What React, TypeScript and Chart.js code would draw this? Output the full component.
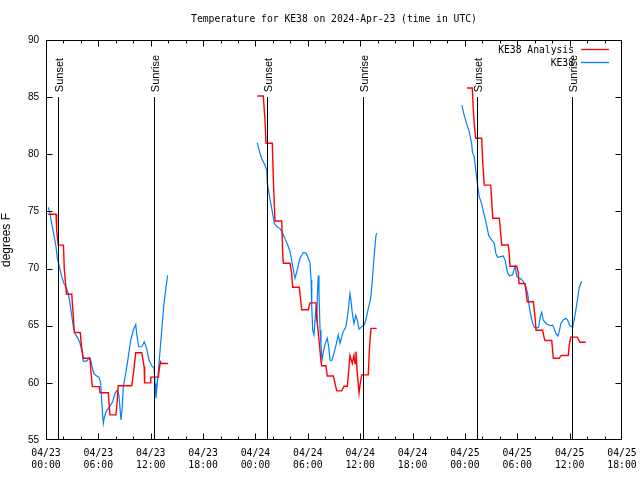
import React, { useEffect, useRef } from 'react';
import { Chart, registerables } from 'chart.js';

Chart.register(...registerables);

// Hours since 2024-04-23 00:00 UTC
const analysisTimes1 = [0.26, 1.15, 1.22, 1.4, 2.0, 2.1, 2.35, 2.95, 3.1, 3.25, 3.93, 4.05, 4.27, 5.04, 5.15, 5.31, 6.1, 6.2, 7.14, 7.25, 7.34, 8.02, 8.17, 8.28, 9.82, 10.05, 10.28, 10.97, 11.25, 11.3, 11.92, 12.0, 12.87, 13.1, 13.2, 14.0];
const analysisTemps1 = [74.75, 74.75, 73.4, 72.05, 72.05, 69.9, 67.75, 67.75, 66.1, 64.4, 64.4, 63.3, 62.15, 62.15, 61.0, 59.67, 59.67, 59.14, 59.14, 57.9, 57.2, 57.2, 58.5, 59.75, 59.75, 61.0, 62.64, 62.64, 61.4, 60.0, 60.0, 60.5, 60.5, 61.85, 61.7, 61.7];

const analysisTimes2 = [24.21, 24.9, 25.09, 25.21, 25.93, 26.05, 26.24, 27.01, 27.12, 27.19, 27.96, 28.15, 28.27, 29.02, 29.18, 29.3, 30.06, 30.25, 30.94, 31.09, 31.32, 31.51, 31.59, 32.08, 32.23, 32.92, 33.12, 33.31, 33.88, 34.15, 34.53, 34.69, 34.83, 35.1, 35.29, 35.41, 35.52, 35.67, 35.87, 35.98, 36.17, 36.93, 37.05, 37.24, 37.89];
const analysisTemps2 = [85.1, 85.1, 83.0, 80.96, 80.96, 77.75, 74.16, 74.16, 71.33, 70.46, 70.46, 69.6, 68.36, 68.36, 67.25, 66.4, 66.4, 67.0, 67.0, 65.2, 63.46, 61.85, 61.5, 61.5, 60.6, 60.6, 59.96, 59.3, 59.3, 59.7, 59.7, 61.1, 62.4, 61.7, 62.4, 61.7, 62.73, 60.8, 59.1, 59.8, 60.7, 60.7, 62.9, 64.77, 64.77];

const analysisTimes3 = [48.24, 48.85, 48.96, 49.07, 49.23, 49.92, 50.04, 50.22, 50.96, 51.07, 51.19, 51.94, 52.1, 52.22, 52.97, 53.09, 53.17, 53.94, 54.12, 54.2, 54.89, 55.0, 55.15, 55.84, 56.03, 56.15, 56.91, 57.06, 57.18, 57.95, 58.06, 58.13, 58.82, 58.98, 59.09, 59.85, 59.96, 60.12, 60.88, 61.0, 61.19, 61.84];
const analysisTemps3 = [85.8, 85.8, 83.9, 82.7, 81.4, 81.4, 79.35, 77.3, 77.3, 76.0, 74.4, 74.4, 73.1, 72.06, 72.06, 71.2, 70.2, 70.2, 69.6, 68.7, 68.7, 68.0, 67.1, 67.1, 65.8, 64.6, 64.6, 64.0, 63.7, 63.7, 62.73, 62.15, 62.15, 62.35, 62.4, 62.4, 63.3, 64.0, 64.0, 63.8, 63.55, 63.55];

const obsTimes1 = [0.26, 0.46, 0.65, 0.92, 1.15, 1.29, 1.49, 1.8, 2.06, 2.29, 2.56, 2.75, 2.94, 3.13, 3.32, 3.59, 3.9, 4.16, 4.27, 4.66, 4.96, 5.16, 5.31, 5.5, 5.81, 6.07, 6.27, 6.38, 6.5, 6.57, 6.68, 6.96, 7.33, 7.64, 7.91, 8.17, 8.36, 8.59, 8.71, 8.86, 9.17, 9.43, 9.71, 10.0, 10.28, 10.39, 10.62, 10.97, 11.26, 11.54, 11.8, 12.11, 12.38, 12.49, 12.6, 12.75, 12.98, 13.26, 13.52, 13.75, 13.94];
const obsTemps1 = [75.36, 74.8, 73.96, 72.9, 71.9, 70.9, 70.3, 69.3, 68.7, 68.4, 67.8, 66.96, 65.94, 64.9, 64.3, 64.0, 63.46, 62.6, 61.9, 61.9, 62.2, 61.9, 61.3, 60.8, 60.6, 60.5, 59.96, 58.5, 57.04, 56.46, 56.99, 57.6, 57.97, 58.35, 59.08, 59.37, 58.9, 56.75, 57.6, 59.67, 60.98, 62.3, 63.75, 64.6, 65.1, 64.3, 63.16, 63.16, 63.6, 63.0, 62.0, 61.5, 61.3, 59.96, 58.65, 59.96, 62.0, 64.6, 66.96, 68.4, 69.4];

const obsTimes2 = [24.21, 24.44, 24.72, 25.09, 25.29, 25.36, 25.55, 25.75, 25.93, 26.16, 26.44, 26.81, 27.12, 27.39, 27.7, 27.96, 28.27, 28.53, 28.8, 29.1, 29.48, 29.79, 30.06, 30.25, 30.37, 30.45, 30.56, 30.71, 30.94, 31.02, 31.13, 31.2, 31.28, 31.4, 31.51, 31.63, 31.78, 32.0, 32.23, 32.39, 32.54, 32.74, 33.0, 33.23, 33.49, 33.69, 33.88, 34.07, 34.37, 34.64, 34.83, 34.95, 35.1, 35.29, 35.49, 35.67, 35.87, 36.17, 36.44, 36.67, 36.93, 37.2, 37.39, 37.62, 37.81, 37.89];
const obsTemps2 = [81.0, 80.3, 79.6, 79.06, 78.6, 77.46, 76.6, 75.7, 74.98, 73.96, 73.67, 73.5, 73.1, 72.6, 72.06, 71.5, 70.2, 69.15, 69.9, 70.9, 71.4, 71.35, 70.9, 70.5, 69.0, 66.67, 64.6, 64.2, 66.67, 65.3, 68.4, 69.4, 68.0, 64.6, 63.2, 62.0, 62.7, 63.46, 63.9, 63.16, 62.0, 61.95, 62.6, 63.3, 64.2, 63.46, 64.0, 64.5, 64.9, 66.4, 67.8, 67.2, 66.1, 65.2, 65.9, 65.5, 64.7, 64.9, 65.06, 65.56, 66.5, 67.4, 69.0, 71.3, 72.9, 73.1];

const obsTimes3 = [47.65, 47.92, 48.19, 48.49, 48.76, 48.87, 49.06, 49.26, 49.45, 49.64, 49.91, 50.21, 50.49, 50.72, 50.98, 51.36, 51.56, 51.75, 52.13, 52.4, 52.62, 52.9, 53.16, 53.47, 53.66, 53.77, 53.93, 54.16, 54.43, 54.69, 55.0, 55.19, 55.38, 55.57, 55.77, 55.95, 56.23, 56.46, 56.64, 56.8, 56.98, 57.29, 57.6, 57.86, 58.05, 58.24, 58.43, 58.66, 58.81, 59.0, 59.26, 59.57, 59.76, 60.03, 60.34, 60.52, 60.72, 60.91, 61.1, 61.3, 61.38];
const obsTemps3 = [84.3, 83.4, 82.7, 82.0, 80.96, 80.2, 79.8, 78.5, 77.3, 76.3, 75.7, 74.7, 73.8, 72.9, 72.6, 72.2, 71.3, 70.98, 71.05, 71.1, 70.7, 69.6, 69.35, 69.45, 70.0, 70.2, 69.35, 69.15, 69.1, 68.85, 68.4, 67.8, 66.67, 65.8, 65.2, 64.86, 64.8, 64.9, 65.8, 66.17, 65.5, 65.2, 65.06, 65.0, 65.06, 64.7, 64.3, 64.1, 64.5, 65.2, 65.5, 65.65, 65.5, 65.0, 64.86, 65.5, 66.4, 67.4, 68.3, 68.76, 68.9];

const sunTimes = [1.38, 12.38, 25.32, 36.32, 49.39, 60.27];
const sunLabels = ['Sunset', 'Sunrise', 'Sunset', 'Sunrise', 'Sunset', 'Sunrise'];
const sunLineTop = 85;

const xTickDates = ['04/23', '04/23', '04/23', '04/23', '04/24', '04/24', '04/24', '04/24', '04/25', '04/25', '04/25', '04/25'];
const xTickTimes = ['00:00', '06:00', '12:00', '18:00', '00:00', '06:00', '12:00', '18:00', '00:00', '06:00', '12:00', '18:00'];

const seriesNames = ['KE38 Analysis', 'KE38'];
const seriesColors = ['#ff0000', '#0080ff'];
const titleText = 'Temperature for KE38 on 2024-Apr-23 (time in UTC)';
const yAxisTitle = 'degrees F';

const MONO = '"DejaVu Sans Mono", monospace';
const SANS = '"Liberation Sans", Arial, sans-serif';

type Pt = { x: number; y: number | null };
const toPoints = (ts: number[], vs: number[]): Pt[] => ts.map((t, i) => ({ x: t, y: vs[i] }));
const joinSegments = (segs: Pt[][]): Pt[] => {
  const out: Pt[] = [];
  segs.forEach((s, i) => {
    if (i > 0) out.push({ x: (out[out.length - 1].x + s[0].x) / 2, y: null });
    out.push(...s);
  });
  return out;
};

const decorPlugin = {
  id: 'decor',
  afterDatasetsDraw(chart: any) {
    const { ctx, chartArea: a, scales } = chart;
    const x = scales.x;
    const y = scales.y;
    ctx.save();
    ctx.strokeStyle = '#000';
    ctx.fillStyle = '#000';
    ctx.lineWidth = 1;

    // sunrise / sunset markers
    const yTop = y.getPixelForValue(sunLineTop);
    const yBot = y.getPixelForValue(y.min);
    sunTimes.forEach((t, i) => {
      const px = Math.round(x.getPixelForValue(t)) + 0.5;
      ctx.beginPath();
      ctx.moveTo(px, Math.round(yTop));
      ctx.lineTo(px, yBot);
      ctx.stroke();
      ctx.save();
      ctx.translate(px + 4.5, yTop - 5);
      ctx.rotate(-Math.PI / 2);
      ctx.font = '11px ' + SANS;
      ctx.textAlign = 'left';
      ctx.textBaseline = 'alphabetic';
      ctx.fillText(sunLabels[i], 0, 0);
      ctx.restore();
    });

    // border
    const L = Math.round(a.left) + 0.5;
    const R = Math.round(a.right) - 0.5;
    const T = Math.round(a.top) + 0.5;
    const B = Math.round(a.bottom) - 0.5;
    ctx.strokeRect(L, T, R - L, B - T);

    // ticks
    ctx.beginPath();
    for (let h = 2; h < 66; h += 2) {
      const len = h % 6 === 0 ? 6 : 3;
      const px = Math.round(x.getPixelForValue(h)) + 0.5;
      ctx.moveTo(px, B);
      ctx.lineTo(px, B - len);
      ctx.moveTo(px, T);
      ctx.lineTo(px, T + len);
    }
    for (let v = 60; v < 90; v += 5) {
      const py = Math.round(y.getPixelForValue(v)) + 0.5;
      ctx.moveTo(L, py);
      ctx.lineTo(L + 6, py);
      ctx.moveTo(R, py);
      ctx.lineTo(R - 6, py);
    }
    ctx.stroke();

    // title
    ctx.font = '9.7px ' + MONO;
    ctx.textAlign = 'center';
    ctx.textBaseline = 'middle';
    ctx.fillText(titleText, (a.left + a.right) / 2, 19.5);

    // y-axis title
    ctx.save();
    ctx.translate(10, (a.top + a.bottom) / 2);
    ctx.rotate(-Math.PI / 2);
    ctx.font = '12px ' + SANS;
    ctx.textAlign = 'center';
    ctx.textBaseline = 'alphabetic';
    ctx.fillText(yAxisTitle, 0, 0);
    ctx.restore();

    // legend
    ctx.font = '9.7px ' + MONO;
    ctx.textAlign = 'right';
    ctx.textBaseline = 'middle';
    seriesNames.forEach((name, i) => {
      const ly = 50 + i * 13;
      ctx.fillStyle = '#000';
      ctx.fillText(name, 574, ly);
      ctx.strokeStyle = seriesColors[i];
      ctx.lineWidth = 1.3;
      ctx.beginPath();
      ctx.moveTo(581, ly - 0.5);
      ctx.lineTo(609, ly - 0.5);
      ctx.stroke();
    });
    ctx.restore();
  },
};

export default function App() {
  const canvasRef = useRef<HTMLCanvasElement | null>(null);

  useEffect(() => {
    if (!canvasRef.current) return;
    const analysis = joinSegments([
      toPoints(analysisTimes1, analysisTemps1),
      toPoints(analysisTimes2, analysisTemps2),
      toPoints(analysisTimes3, analysisTemps3),
    ]);
    const obs = joinSegments([
      toPoints(obsTimes1, obsTemps1),
      toPoints(obsTimes2, obsTemps2),
      toPoints(obsTimes3, obsTemps3),
    ]);
    const chart = new Chart(canvasRef.current, {
      type: 'line',
      data: {
        datasets: [
          {
            label: seriesNames[0],
            data: analysis as any,
            borderColor: seriesColors[0],
            backgroundColor: seriesColors[0],
            borderWidth: 1.4,
            pointRadius: 0,
            tension: 0,
            spanGaps: false,
          },
          {
            label: seriesNames[1],
            data: obs as any,
            borderColor: seriesColors[1],
            backgroundColor: seriesColors[1],
            borderWidth: 1.2,
            pointRadius: 0,
            tension: 0,
            spanGaps: false,
          },
        ],
      },
      options: {
        responsive: false,
        animation: false,
        layout: { padding: { top: 40, right: 18, left: 0, bottom: 0 } },
        plugins: {
          legend: { display: false },
          title: { display: false },
          tooltip: { enabled: false },
        },
        scales: {
          x: {
            type: 'linear',
            min: 0,
            max: 66,
            grid: { display: false, drawTicks: false },
            border: { display: false },
            afterFit: (s: any) => { s.height = 40; s.paddingLeft = 0; s.paddingRight = 0; },
            ticks: {
              stepSize: 6,
              autoSkip: false,
              maxRotation: 0,
              minRotation: 0,
              padding: 8,
              color: '#000',
              font: { family: MONO, size: 9.8 },
              callback: (v: any) => {
                const i = Math.round(Number(v) / 6);
                return [xTickDates[i], xTickTimes[i]];
              },
            },
          },
          y: {
            type: 'linear',
            min: 55,
            max: 90,
            grid: { display: false, drawTicks: false },
            border: { display: false },
            afterFit: (s: any) => { s.width = 46; s.paddingTop = 0; s.paddingBottom = 0; },
            ticks: {
              stepSize: 5,
              padding: 7,
              color: '#000',
              font: { family: SANS, size: 10 },
            },
          },
        },
      },
      plugins: [decorPlugin],
    });
    return () => chart.destroy();
  }, []);

  return (
    <div style={{ position: 'absolute', left: 0, top: 0, width: 640, height: 480, background: '#fff' }}>
      <canvas ref={canvasRef} width={640} height={480} style={{ display: 'block', width: 640, height: 480 }} />
    </div>
  );
}
